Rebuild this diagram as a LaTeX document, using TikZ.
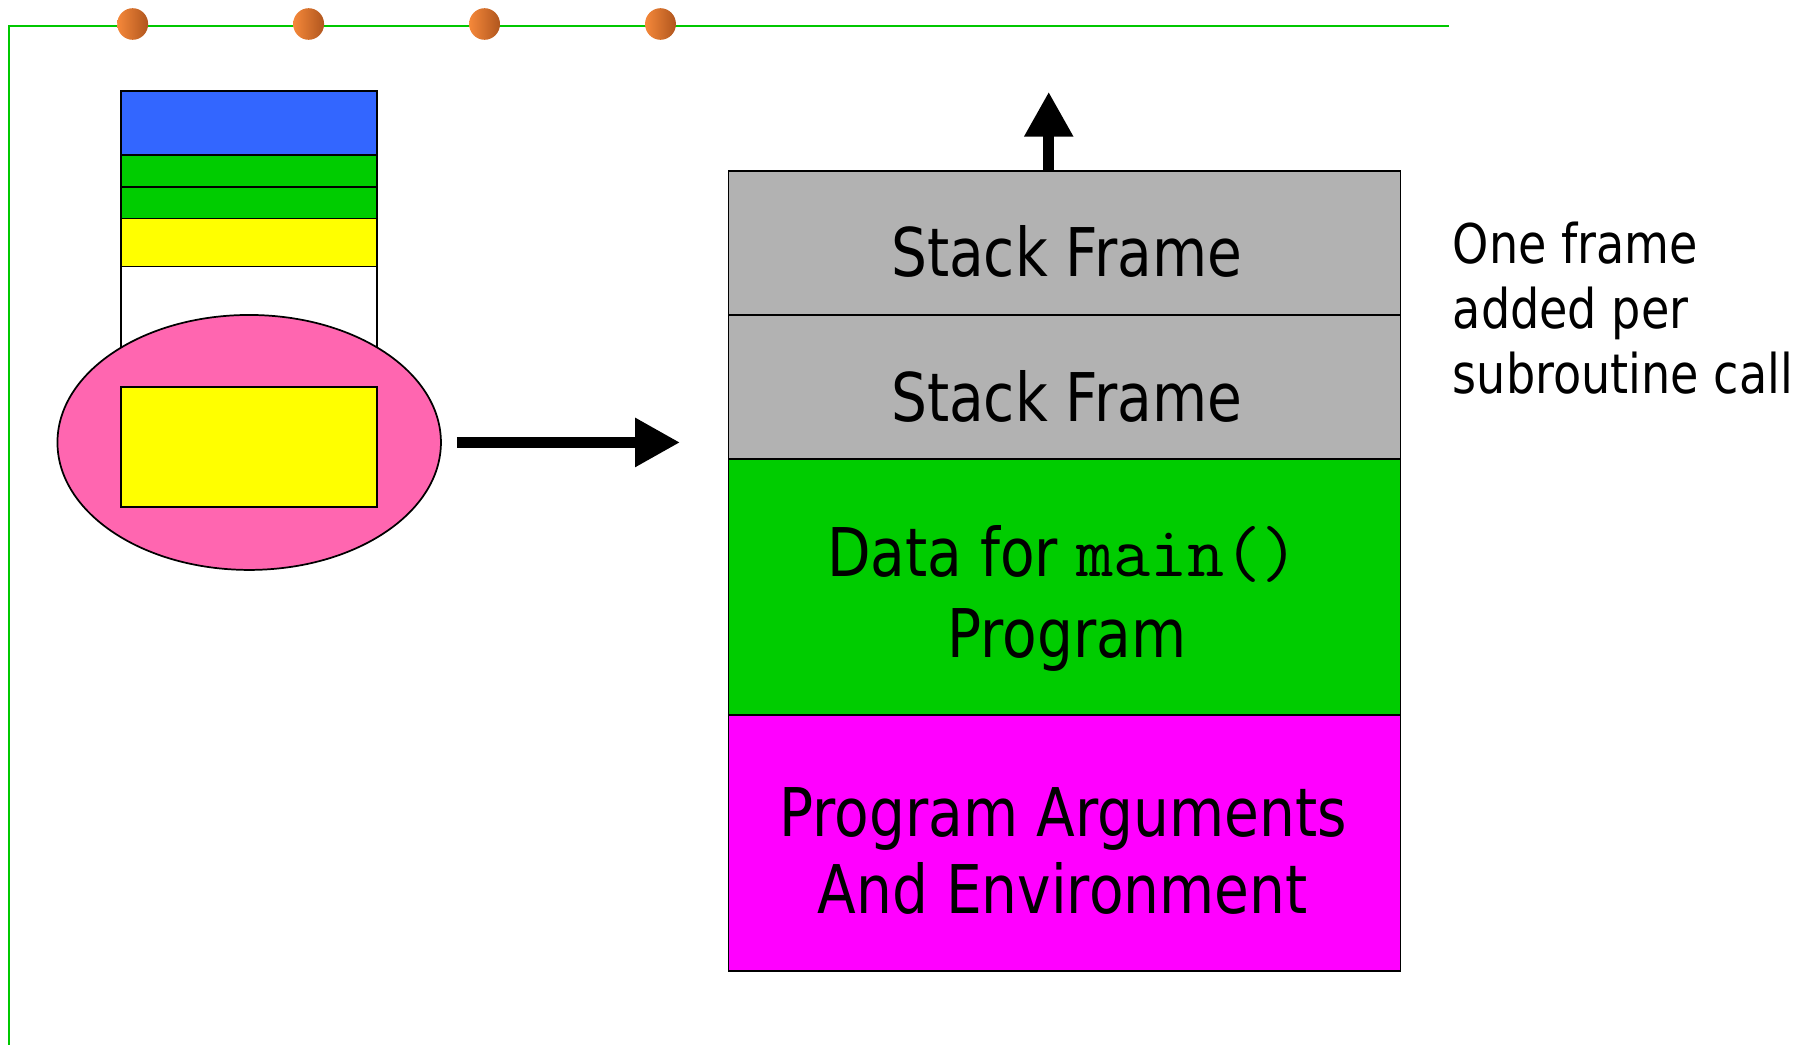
\documentclass[tikz,border=0pt]{standalone}
\usepackage{fontspec}
\setmainfont{DejaVu Sans}[FakeStretch=0.843]
\usetikzlibrary{arrows.meta,shapes.geometric}

\definecolor{rulegreen}{HTML}{00C800}
\definecolor{dotlight}{HTML}{F5883A}
\definecolor{dotdark}{HTML}{B0561E}
\definecolor{cellblue}{HTML}{3366FF}
\definecolor{cellgreen}{HTML}{00CC00}
\definecolor{cellyellow}{HTML}{FFFF00}
\definecolor{cellgray}{HTML}{B2B2B2}
\definecolor{cellmagenta}{HTML}{FF00FF}
\definecolor{blobpink}{HTML}{FF66B0}

\tikzset{
  dot/.style={ellipse, inner sep=0, minimum width=26.8pt, minimum height=27.4pt,
    left color=dotlight, right color=dotdark},
  minicell/.style={draw=black, line width=1.5pt, inner sep=0, outer sep=0,
    minimum width=221.5pt, anchor=north west},
  stackcell/.style={draw=black, line width=1.5pt, inner sep=0, outer sep=0,
    minimum width=582.3pt, anchor=north west},
  biglabel/.style={inner sep=0, anchor=base, font=\fontsize{58.2}{70}\selectfont},
  notelabel/.style={inner sep=0, anchor=base west, font=\fontsize{47.4}{57}\selectfont},
  bigarrow/.style={line width=10pt, -{Triangle[length=39pt,width=40pt]}}
}

\begin{document}
\begin{tikzpicture}[x=1pt, y=-1pt]
\useasboundingbox (0,0) rectangle (1568,905);

% slide rule with its bullets
\draw[rulegreen, line width=1.5pt] (1256,22.5) -- (7.7,22.5) -- (7.7,910);
\node[dot] (d1) at (115,20.8) {};
\node[dot] (d2) at (267.5,20.8) {};
\node[dot] (d3) at (420,20.8) {};
\node[dot] (d4) at (572.5,20.8) {};

% small stack with the magnified blob
\node[minicell, fill=cellblue,   minimum height=55.5pt] (m1) at (105,78.6) {};
\node[minicell, fill=cellgreen,  minimum height=27.7pt] (m2) at (m1.south west) {};
\node[minicell, fill=cellgreen,  minimum height=27.7pt] (m3) at (m2.south west) {};
\node[minicell, fill=cellyellow, minimum height=41.6pt] (m4) at (m3.south west) {};
\node[minicell, fill=white,      minimum height=152pt]  (m5) at (m4.south west) {};
\node[ellipse, draw=black, line width=1.5pt, fill=blobpink, inner sep=0, outer sep=0,
      minimum width=332.4pt, minimum height=221pt] (blob) at (216,383.5) {};
\node[minicell, fill=cellyellow, minimum height=104pt] (mz) at (105,335.2) {};

% process stack
\node[stackcell, fill=cellgray,    minimum height=125pt]   (sf1)  at (631.5,148) {};
\node[stackcell, fill=cellgray,    minimum height=125pt]   (sf2)  at (sf1.south west) {};
\node[stackcell, fill=cellgreen,   minimum height=222pt]   (data) at (sf2.south west) {};
\node[stackcell, fill=cellmagenta, minimum height=221.5pt] (args) at (data.south west) {};

\node[biglabel] (t1) at (924.5,239.8) {Stack Frame};
\node[biglabel] (t2) at (924.5,365.5) {Stack Frame};
\node[biglabel] (t3) at (921.5,499.8) {Data for {\ttfamily\fontsize{62.5}{70}\selectfont main()}};
\node[biglabel] (t4) at (925,569.8) {Program};
\node[biglabel] (t5) at (921.5,725.2) {Program Arguments};
\node[biglabel] (t6) at (921,791.6) {And Environment};

% note on growth
\node[notelabel] (n1) at (1259,228.2) {One frame};
\node[notelabel] (n2) at (1259,284.6) {added per};
\node[notelabel] (n3) at (1259,341) {subroutine call};

% arrows
\draw[bigarrow, shorten <=13.8pt, shorten >=42pt] (blob.east) -- (blob.east -| sf2.west);
\coordinate (growtip) at (909,79.5);
\draw[bigarrow] (sf1.north -| growtip) -- (growtip);
\end{tikzpicture}
\end{document}
